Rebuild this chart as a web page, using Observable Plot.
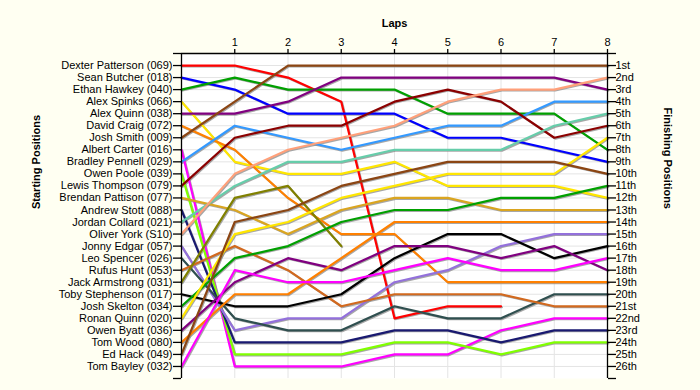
<!DOCTYPE html>
<html>
<head>
<meta charset="utf-8">
<script src="https://cdn.jsdelivr.net/npm/d3@7"></script>
<script src="https://cdn.jsdelivr.net/npm/@observablehq/plot@0.6"></script>
<style>
  html, body { margin: 0; padding: 0; background: #fffff2; }
  #chart svg { display: block; }
</style>
</head>
<body>
<div id="chart"></div>
<script>
// ---- data ----
const drivers = [
  "Dexter Patterson (069)", "Sean Butcher (018)", "Ethan Hawkey (040)", "Alex Spinks (066)",
  "Alex Quinn (038)", "David Craig (072)", "Josh Smith (009)", "Albert Carter (016)",
  "Bradley Pennell (029)", "Owen Poole (039)", "Lewis Thompson (079)", "Brendan Pattison (077)",
  "Andrew Stott (088)", "Jordan Collard (021)", "Oliver York (S10)", "Jonny Edgar (057)",
  "Leo Spencer (026)", "Rufus Hunt (053)", "Jack Armstrong (031)", "Toby Stephenson (017)",
  "Josh Skelton (034)", "Ronan Quinn (020)", "Owen Byatt (036)", "Tom Wood (080)",
  "Ed Hack (049)", "Tom Bayley (032)"
];
const laps = [0, 1, 2, 3, 4, 5, 6, 7, 8];
const lapTicks = [1, 2, 3, 4, 5, 6, 7, 8];
// position of each driver at laps 0..8 (null = retired)
const positions = [
  [1, 1, 2, 4, 22, 21, 21, null, null],
  [2, 3, 5, 5, 5, 7, 7, 8, 9],
  [3, 2, 3, 3, 3, 5, 5, 5, 8],
  [4, 9, 10, 10, 9, 11, 11, 11, 12],
  [5, 5, 4, 2, 2, 2, 2, 2, 3],
  [6, 8, 12, 15, 15, 19, 19, 19, 19],
  [7, 4, 1, 1, 1, 1, 1, 1, 1],
  [8, 26, 26, 26, 25, 25, 23, 22, 22],
  [9, 6, 7, 8, 7, 6, 6, 4, 4],
  [10, 25, 25, 25, 24, 24, 25, 24, 24],
  [11, 7, 6, 6, 4, 3, 4, 7, 6],
  [12, 13, 15, 13, 12, 12, 13, 13, 13],
  [13, 24, 24, 24, 23, 23, 24, 23, 23],
  [14, 11, 9, 9, 8, 8, 8, 6, 5],
  [15, 10, 8, 7, 6, 4, 3, 3, 2],
  [16, 23, 22, 22, 19, 18, 16, 15, 15],
  [17, 22, 23, 23, 21, 22, 22, 20, 20],
  [18, 16, 18, 21, 20, 20, 20, 21, 21],
  [19, 12, 11, 16, null, null, null, null, null],
  [20, 21, 21, 20, 17, 15, 15, 17, 16],
  [21, 17, 16, 14, 13, 13, 12, 12, 11],
  [22, 15, 14, 12, 11, 10, 10, 10, 7],
  [23, 19, 17, 18, 16, 16, 17, 16, 18],
  [24, 20, 20, 17, 14, 14, 14, 14, 14],
  [25, 14, 13, 11, 10, 9, 9, 9, 10],
  [26, 18, 19, 19, 18, 17, 18, 18, 17]
];
const finishLabels = [
  "1st", "2nd", "3rd", "4th", "5th", "6th", "7th", "8th", "9th", "10th", "11th", "12th", "13th",
  "14th", "15th", "16th", "17th", "18th", "19th", "20th", "21st", "22nd", "23rd", "24th", "25th", "26th"
];
const xTitle = "Laps";
const leftTitle = "Starting Positions";
const rightTitle = "Finishing Positions";

// ---- styles ----
const lineColors = [
  "#ff0000", "#0000ff", "#00a000", "#ffe600", "#800080", "#ff8000", "#8b4513", "#ff00ff",
  "#3399ff", "#80ff00", "#8b0000", "#daa520", "#191970", "#66cdaa", "#ffa07a", "#9370db",
  "#2f4f4f", "#d2691e", "#808000", "#000000",
  "#00a000", "#ffe600", "#800080", "#ff8000", "#8b4513", "#ff00ff"
];

// ---- long table ----
const rows = [];
drivers.forEach((name, i) => {
  laps.forEach((lap, j) => {
    const p = positions[i][j];
    if (p != null) rows.push({driver: name, lap, pos: p});
  });
});

const yTicks = d3.range(0, 28);

const chart = Plot.plot({
  width: 700,
  height: 390,
  marginLeft: 181,
  marginRight: 93,
  marginTop: 53,
  marginBottom: 12,
  style: {fontFamily: "'Liberation Sans', Arial, sans-serif", fontSize: "11px", color: "#000", background: "transparent"},
  x: {domain: [0, 8], axis: null},
  y: {domain: [0, 27], reverse: true, axis: null},
  color: {domain: drivers, range: lineColors},
  marks: [
    Plot.frame({fill: "#ffffff", stroke: null}),
    Plot.gridX({ticks: [1, 2, 3, 4, 5, 6, 7], stroke: "#e4e4e4", strokeOpacity: 1}),
    Plot.gridY({ticks: d3.range(1, 27), stroke: "#e4e4e4", strokeOpacity: 1}),
    Plot.line(rows, {x: "lap", y: "pos", z: "driver", stroke: "#8a8a8a", strokeOpacity: 0.75, strokeWidth: 2, dx: 1, dy: 1}),
    Plot.line(rows, {x: "lap", y: "pos", z: "driver", stroke: "driver", strokeWidth: 2.2}),
    Plot.ruleY([0], {stroke: "#000", strokeWidth: 1.3}),
    Plot.ruleX([0], {stroke: "#000", strokeWidth: 1.3}),
    Plot.ruleX([8], {stroke: "#000", strokeWidth: 1.3}),
    Plot.axisX({anchor: "top", ticks: lapTicks, tickSize: 5, tickPadding: 3, label: null, fontSize: 11, strokeWidth: 1.3}),
    Plot.axisY({anchor: "left", ticks: yTicks, tickSize: 8, tickPadding: 1, label: null, fontSize: 11,
      strokeWidth: 1.3, tickFormat: d => (d >= 1 && d <= 26 ? drivers[d - 1] : "")}),
    Plot.axisY({anchor: "right", ticks: yTicks, tickSize: 8, tickPadding: 0, label: null, fontSize: 11,
      strokeWidth: 1.3, tickFormat: d => (d >= 1 && d <= 26 ? finishLabels[d - 1] : "")}),
    Plot.text([xTitle], {frameAnchor: "top", text: d => d, dy: -34, fontWeight: "bold", fontSize: 11}),
    Plot.text([leftTitle], {frameAnchor: "left", text: d => d, dx: -145, dy: -7, rotate: -90, fontWeight: "bold", fontSize: 11}),
    Plot.text([rightTitle], {frameAnchor: "right", text: d => d, dx: 60, dy: -7, rotate: 90, fontWeight: "bold", fontSize: 11})
  ]
});
document.getElementById("chart").appendChild(chart);
</script>
</body>
</html>
